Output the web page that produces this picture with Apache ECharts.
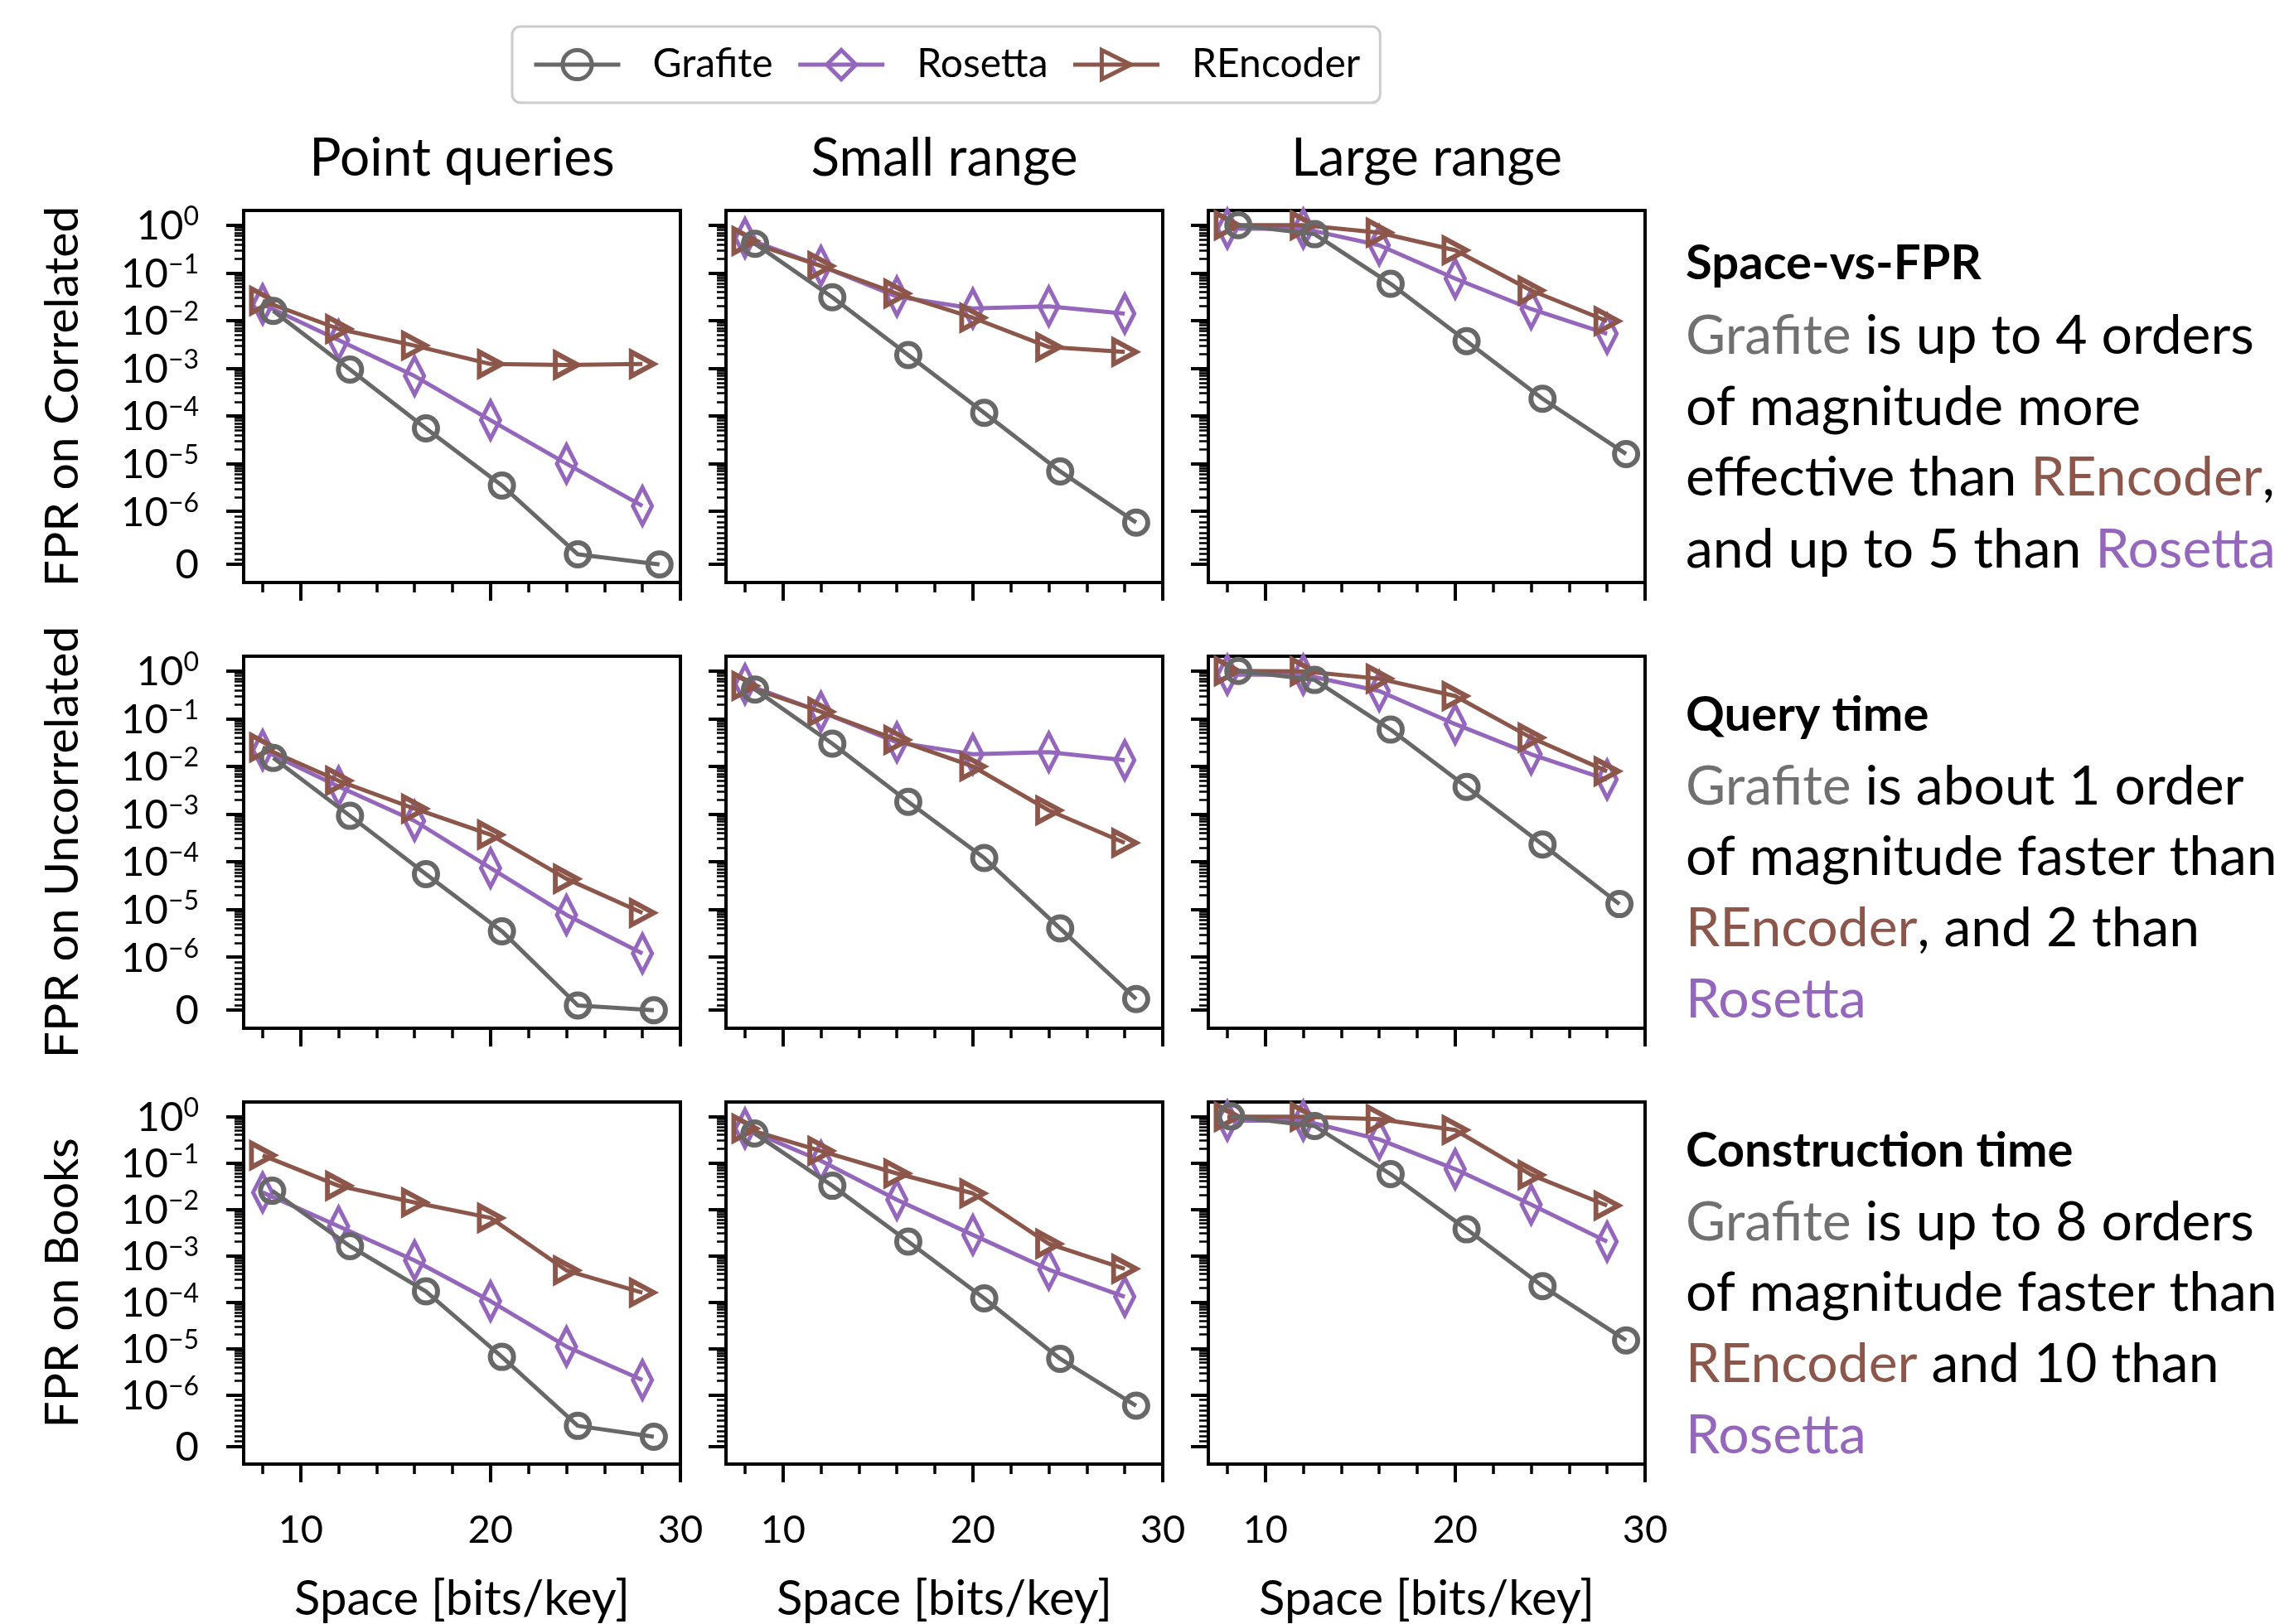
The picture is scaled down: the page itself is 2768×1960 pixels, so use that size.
<!DOCTYPE html>
<html>
<head>
<meta charset="utf-8">
<script src="https://cdn.jsdelivr.net/npm/echarts@6/dist/echarts.min.js"></script>
<style>
html,body{margin:0;padding:0;background:#fff;}
#chart{width:2768px;height:1960px;}
</style>
</head>
<body>
<div id="chart"></div>
<script>
// ---------------- DATA ----------------
const rowNames = ['Correlated', 'Uncorrelated', 'Books'];
const colTitles = ['Point queries', 'Small range', 'Large range'];
const seriesNames = ['Grafite', 'Rosetta', 'REncoder'];

// x positions (bits/key)
const filterX = [8, 12, 16, 20, 24, 28];            // Rosetta & REncoder
const grafiteX_corr_point  = [8.56, 12.6, 16.6, 20.6, 24.6, 28.9];
const grafiteX_corr_small  = [8.53, 12.6, 16.6, 20.6, 24.6, 28.6];
const grafiteX_corr_large  = [8.58, 12.6, 16.6, 20.6, 24.6, 29.0];
const grafiteX_unc_point   = [8.56, 12.6, 16.6, 20.6, 24.6, 28.6];
const grafiteX_unc_small   = [8.53, 12.6, 16.6, 20.6, 24.6, 28.6];
const grafiteX_unc_large   = [8.58, 12.6, 16.6, 20.6, 24.6, 28.65];
const grafiteX_books_point = [8.5, 12.6, 16.6, 20.6, 24.6, 28.6];
const grafiteX_books_small = [8.5, 12.6, 16.6, 20.6, 24.6, 28.6];
const grafiteX_books_large = [8.2, 12.6, 16.6, 20.6, 24.6, 29.0];

// FPR values
const grafite_corr_point  = [1.6e-2, 9.4e-4, 5.5e-5, 3.5e-6, 1.9e-7, 0];
const rosetta_corr_point  = [2.2e-2, 3.9e-3, 6.9e-4, 8.2e-5, 1.0e-5, 1.3e-6];
const rencoder_corr_point = [2.6e-2, 6.7e-3, 3.0e-3, 1.23e-3, 1.18e-3, 1.23e-3];

const grafite_corr_small  = [0.41, 3.1e-2, 1.9e-3, 1.17e-4, 6.9e-6, 7.9e-7];
const rosetta_corr_small  = [0.54, 0.14, 3.2e-2, 1.8e-2, 2.0e-2, 1.4e-2];
const rencoder_corr_small = [0.47, 0.14, 3.7e-2, 1.15e-2, 2.8e-3, 2.2e-3];

const grafite_corr_large  = [1.0, 0.65, 5.9e-2, 3.7e-3, 2.3e-4, 1.6e-5];
const rosetta_corr_large  = [0.85, 0.85, 0.38, 7.6e-2, 1.75e-2, 5.3e-3];
const rencoder_corr_large = [1.0, 1.0, 0.70, 0.30, 4.3e-2, 9.8e-3];

const grafite_unc_point  = [1.5e-2, 9.2e-4, 5.5e-5, 3.5e-6, 9e-8, 0];
const rosetta_unc_point  = [2.2e-2, 3.8e-3, 7.2e-4, 7.4e-5, 7.7e-6, 1.2e-6];
const rencoder_unc_point = [2.5e-2, 5.0e-3, 1.3e-3, 3.7e-4, 4.4e-5, 8.5e-6];

const grafite_unc_small  = [0.41, 3.0e-2, 1.8e-3, 1.2e-4, 4.0e-6, 2.1e-7];
const rosetta_unc_small  = [0.53, 0.14, 3.2e-2, 1.8e-2, 2.0e-2, 1.35e-2];
const rencoder_unc_small = [0.49, 0.14, 3.6e-2, 1.0e-2, 1.2e-3, 2.5e-4];

const grafite_unc_large  = [1.0, 0.65, 5.9e-2, 3.7e-3, 2.3e-4, 1.3e-5];
const rosetta_unc_large  = [0.84, 0.84, 0.38, 7.7e-2, 1.8e-2, 5.3e-3];
const rencoder_unc_large = [1.0, 0.98, 0.69, 0.30, 4.0e-2, 7.9e-3];

const grafite_books_point  = [2.5e-2, 1.6e-3, 1.7e-4, 6.6e-6, 4.0e-7, 1.9e-7];
const rosetta_books_point  = [2.3e-2, 4.3e-3, 7.9e-4, 1.05e-4, 1.1e-5, 2.1e-6];
const rencoder_books_point = [0.145, 3.2e-2, 1.4e-2, 6.5e-3, 4.8e-4, 1.6e-4];

const grafite_books_small  = [0.43, 3.2e-2, 2.0e-3, 1.2e-4, 6.0e-6, 7.9e-7];
const rosetta_books_small  = [0.55, 0.11, 1.6e-2, 2.8e-3, 5.0e-4, 1.3e-4];
const rencoder_books_small = [0.55, 0.18, 5.9e-2, 2.2e-2, 1.8e-3, 5.2e-4];

const grafite_books_large  = [1.0, 0.62, 5.7e-2, 3.7e-3, 2.2e-4, 1.5e-5];
const rosetta_books_large  = [0.81, 0.81, 0.32, 7.3e-2, 1.26e-2, 2.0e-3];
const rencoder_books_large = [0.98, 0.98, 0.87, 0.51, 5.5e-2, 1.2e-2];

// axis ticks
const xMajorTicks = [10, 20, 30];
const xMinorTicks = [8, 12, 14, 16, 18, 22, 24, 26, 28];
const yDecades = [-6, -5, -4, -3, -2, -1, 0];

// ---------------- ASSEMBLY ----------------
const panels = [
  [[grafiteX_corr_point, grafite_corr_point, rosetta_corr_point, rencoder_corr_point],
   [grafiteX_corr_small, grafite_corr_small, rosetta_corr_small, rencoder_corr_small],
   [grafiteX_corr_large, grafite_corr_large, rosetta_corr_large, rencoder_corr_large]],
  [[grafiteX_unc_point, grafite_unc_point, rosetta_unc_point, rencoder_unc_point],
   [grafiteX_unc_small, grafite_unc_small, rosetta_unc_small, rencoder_unc_small],
   [grafiteX_unc_large, grafite_unc_large, rosetta_unc_large, rencoder_unc_large]],
  [[grafiteX_books_point, grafite_books_point, rosetta_books_point, rencoder_books_point],
   [grafiteX_books_small, grafite_books_small, rosetta_books_small, rencoder_books_small],
   [grafiteX_books_large, grafite_books_large, rosetta_books_large, rencoder_books_large]]
];

// symlog scale (linthresh 1e-6, linscale 1)
const LINTHRESH = 1e-6;
const LINSCALE = 1 / (1 - 1 / 10);
function symlog(v) {
  return v >= LINTHRESH ? Math.log10(v) : Math.log10(LINTHRESH) - LINSCALE * (1 - v / LINTHRESH);
}
const yZero = symlog(0);
const yMajorTicks = [yZero].concat(yDecades);
const yMinorTicks = [];
for (let m = 1; m <= 9; m++) yMinorTicks.push(symlog(m * 1e-7));
for (let k = -6; k <= -1; k++) for (let m = 2; m <= 9; m++) yMinorTicks.push(k + Math.log10(m));

const FONT = 'Lato';
const COLORS = { Grafite: '#686868', Rosetta: '#9467bd', REncoder: '#8c564b' };
const SYM = {
  Grafite: { symbol: 'circle', size: 28, bw: 6, z: 5 },
  Rosetta: { symbol: 'path://M1,0L2,2L1,4L0,2Z', size: [23, 45], bw: 5.5, z: 3 },
  REncoder: { symbol: 'path://M0,0L2,1L0,2Z', size: [27, 29], bw: 6, z: 4 }
};
const LINE_W = 5;

const colLeft = [294, 876, 1458];
const rowTop = [254, 792, 1330];
const PW = 527, PH = 449;
const Y_MIN = -7.49, Y_MAX = 0.31;

function yLabel(v) {
  if (v < -6.5) return '{n|0}';
  const e = Math.round(v);
  return '{n|10}{s|' + (e === 0 ? '0' : '\u2212' + (-e)) + '}';
}

const grids = [], xAxes = [], yAxes = [], series = [];
for (let r = 0; r < 3; r++) {
  for (let c = 0; c < 3; c++) {
    const gi = r * 3 + c;
    grids.push({ left: colLeft[c], top: rowTop[r], width: PW, height: PH, show: true,
      borderColor: '#000', borderWidth: 4, backgroundColor: 'rgba(0,0,0,0)' });
    const xBase = { type: 'value', gridIndex: gi, min: 7, max: 30, position: 'bottom',
      axisLine: { show: false, onZero: false }, splitLine: { show: false } };
    xAxes.push(Object.assign({}, xBase, {
      axisTick: { show: true, customValues: xMajorTicks, length: 22, lineStyle: { color: '#000', width: 4 } },
      axisLabel: { show: r === 2, customValues: xMajorTicks, margin: 56, fontSize: 47, fontFamily: FONT, color: '#000' },
      name: r === 2 ? 'Space [bits/key]' : '', nameLocation: 'middle', nameGap: 134,
      nameTextStyle: { fontSize: 58, fontFamily: FONT, color: '#000' }
    }));
    xAxes.push(Object.assign({}, xBase, {
      axisTick: { show: true, customValues: xMinorTicks, length: 12, lineStyle: { color: '#000', width: 3.5 } },
      axisLabel: { show: false }
    }));
    const yBase = { type: 'value', gridIndex: gi, min: Y_MIN, max: Y_MAX, position: 'left',
      axisLine: { show: false, onZero: false }, splitLine: { show: false } };
    yAxes.push(Object.assign({}, yBase, {
      axisTick: { show: true, customValues: yMajorTicks, length: 21, lineStyle: { color: '#000', width: 4 } },
      axisLabel: { show: c === 0, customValues: yMajorTicks, margin: 54, formatter: yLabel,
        showMinLabel: true, showMaxLabel: true, hideOverlap: false,
        rich: {
          n: { fontSize: 49, fontFamily: FONT, color: '#000', lineHeight: 52, verticalAlign: 'bottom' },
          s: { fontSize: 32, fontFamily: FONT, color: '#000', lineHeight: 30, verticalAlign: 'top' }
        } },
      name: c === 0 ? 'FPR on ' + rowNames[r] : '', nameLocation: 'middle', nameGap: 190,
      nameTextStyle: { fontSize: 57, fontFamily: FONT, color: '#000' }
    }));
    yAxes.push(Object.assign({}, yBase, {
      axisTick: { show: true, customValues: yMinorTicks, length: 11, lineStyle: { color: '#000', width: 2.5 } },
      axisLabel: { show: false }
    }));
    const p = panels[r][c];
    const xs = [p[0], filterX, filterX];
    const ys = [p[1], p[2], p[3]];
    seriesNames.forEach((name, si) => {
      const s = SYM[name];
      series.push({
        type: 'line', name: name, xAxisIndex: 2 * gi, yAxisIndex: 2 * gi,
        data: xs[si].map((x, i) => [x, symlog(ys[si][i])]),
        symbol: s.symbol, symbolSize: s.size,
        showSymbol: true, clip: false, z: s.z,
        lineStyle: { color: COLORS[name], width: LINE_W },
        itemStyle: { color: 'rgba(255,255,255,0)', borderColor: COLORS[name], borderWidth: s.bw },
        emphasis: { disabled: true }, silent: true
      });
    });
  }
}

// ---------------- TEXT ----------------
const colCenters = colLeft.map(l => l + PW / 2);
const graphics = colTitles.map((t, i) => ({
  type: 'text', x: colCenters[i], y: 191,
  style: { text: t, fontSize: 64, fontFamily: FONT, fill: '#000', align: 'center', verticalAlign: 'middle' }
}));

const NOTE_FS = 66, HEAD_FS = 58;
const RICH = {
  g: { fill: '#707070', fontSize: NOTE_FS, fontFamily: FONT },
  e: { fill: '#8c564b', fontSize: NOTE_FS, fontFamily: FONT },
  o: { fill: '#9467bd', fontSize: NOTE_FS, fontFamily: FONT },
  h: { fill: '#000', fontSize: HEAD_FS, fontFamily: FONT, fontWeight: 'bold' }
};
const noteLines = [
  ['{h|Space-vs-FPR}', 318],
  ['{g|Grafite} is up to 4 orders', 406],
  ['of magnitude more', 492],
  ['effective than {e|REncoder},', 577],
  ['and up to 5 than {o|Rosetta}', 664],
  ['{h|Query time}', 863],
  ['{g|Grafite} is about 1 order', 950],
  ['of magnitude faster than', 1035],
  ['{e|REncoder}, and 2 than', 1121],
  ['{o|Rosetta}', 1207],
  ['{h|Construction time}', 1389],
  ['{g|Grafite} is up to 8 orders', 1476],
  ['of magnitude faster than', 1561],
  ['{e|REncoder} and 10 than', 1647],
  ['{o|Rosetta}', 1733]
];
noteLines.forEach(([t, y]) => graphics.push({
  type: 'text', x: 2034, y: y,
  style: { text: t, rich: RICH, fontSize: NOTE_FS, fontFamily: FONT, fill: '#000', align: 'left', verticalAlign: 'middle' }
}));

const option = {
  animation: false,
  backgroundColor: '#fff',
  legend: {
    data: seriesNames, left: 618, top: 32, orient: 'horizontal',
    itemWidth: 104, itemHeight: 44, itemGap: 28,
    padding: [22, 24, 22, 24],
    borderColor: '#cccccc', borderWidth: 3, borderRadius: 10, backgroundColor: '#fff',
    lineStyle: { width: LINE_W },
    itemStyle: { borderWidth: 5 },
    textStyle: { fontSize: 48, fontFamily: FONT, color: '#000', padding: [0, 0, 0, 34] },
    selectedMode: false
  },
  grid: grids, xAxis: xAxes, yAxis: yAxes, series: series, graphic: graphics
};

const chart = echarts.init(document.getElementById('chart'), null, { renderer: 'canvas' });
chart.setOption(option);
</script>
</body>
</html>
